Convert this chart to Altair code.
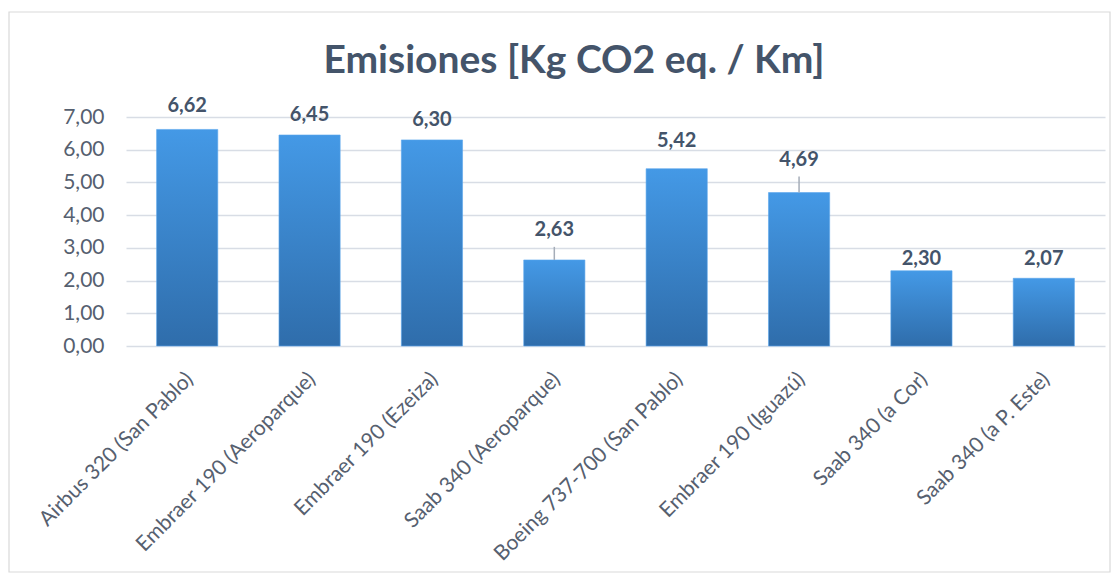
import altair as alt
import pandas as pd

categories = [
    "Airbus 320 (San Pablo)",
    "Embraer 190 (Aeroparque)",
    "Embraer 190 (Ezeiza)",
    "Saab 340 (Aeroparque)",
    "Boeing 737-700 (San Pablo)",
    "Embraer 190 (Iguazú)",
    "Saab 340 (a Cor)",
    "Saab 340 (a P. Este)",
]
values = [6.62, 6.45, 6.30, 2.63, 5.42, 4.69, 2.30, 2.07]
# where each data label sits (data units, as placed in the original)
label_at = [7.35, 7.05, 6.90, 3.55, 6.26, 5.70, 2.66, 2.66]
# labels that were moved away and carry a leader line
leader = [False, False, False, True, False, True, False, False]
y_ticks = [0, 1, 2, 3, 4, 5, 6, 7]

title_text = "Emisiones [Kg CO2 eq. / Km]"

df = pd.DataFrame({
    "cat": categories,
    "val": values,
    "lab": [f"{v:.2f}".replace(".", ",") for v in values],
    "lab_at": label_at,
    "leader": leader,
})

FONT = "Lato"
TXT = "#44546A"
AX = "#56606F"

W, H = 979, 229

base = alt.Chart(df)

x_axis = alt.Axis(labelAngle=-45, labelFontSize=21, labelFont=FONT, labelColor=AX,
                  ticks=False, domain=False, labelPadding=22, labelOffset=-5,
                  labelLimit=400, labelOverlap=False, title=None)
x_scale = alt.Scale(paddingInner=0.5, paddingOuter=0.25)
x_enc = alt.X("cat:N", sort=categories, title=None, scale=x_scale, axis=x_axis)

y_axis = alt.Axis(values=y_ticks, labelExpr="replace(format(datum.value, '.2f'), '.', ',')",
                  labelFontSize=21, labelFont=FONT, labelColor=AX, labelPadding=22,
                  labelOverlap=False, ticks=False, domain=False,
                  gridColor="#D8DDE5", gridWidth=1.7, title=None)
y_scale = alt.Scale(domain=[0, 7], nice=False)

bars = base.mark_bar(
    color=alt.Gradient(
        gradient="linear",
        stops=[alt.GradientStop(color="#4499E6", offset=0),
               alt.GradientStop(color="#2F6DAB", offset=1)],
        x1=0, x2=0, y1=0, y2=1,
    ),
    stroke="#5AA6EC", strokeWidth=0.6,
).encode(
    x=x_enc,
    y=alt.Y("val:Q", scale=y_scale, title=None, axis=y_axis),
)

rules = base.transform_filter("datum.leader").mark_rule(
    color="#A5ADB8", strokeWidth=1.5, y2Offset=17
).encode(
    x=x_enc,
    y=alt.Y("val:Q", scale=y_scale, title=None, axis=y_axis),
    y2="lab_at:Q",
)

texts = base.mark_text(
    font=FONT, fontSize=20, fontWeight="bold", color=TXT, baseline="middle"
).encode(
    x=x_enc,
    y=alt.Y("lab_at:Q", scale=y_scale, title=None, axis=y_axis),
    text="lab:N",
)

frame = alt.Chart(pd.DataFrame({"a": [0]})).mark_rect(
    fill=None, stroke="#D9D9D9", strokeWidth=1.2
).encode(
    x=alt.value(-117), x2=alt.value(984), y=alt.value(-105), y2=alt.value(455)
)

title = alt.Chart(pd.DataFrame({"t": [title_text]})).mark_text(
    font=FONT, fontSize=39, fontWeight="bold", color=TXT, baseline="alphabetic", align="center"
).encode(
    x=alt.value(448), y=alt.value(-44), text="t:N"
)

chart = alt.layer(frame, bars, rules, texts, title).properties(
    width=W, height=H,
    autosize=alt.AutoSizeParams(type="none"),
    padding={"left": 118, "top": 109, "right": 6, "bottom": 227},
).configure_view(stroke=None)

chart.save("out.html", embed_options={"renderer": "svg", "actions": False})
